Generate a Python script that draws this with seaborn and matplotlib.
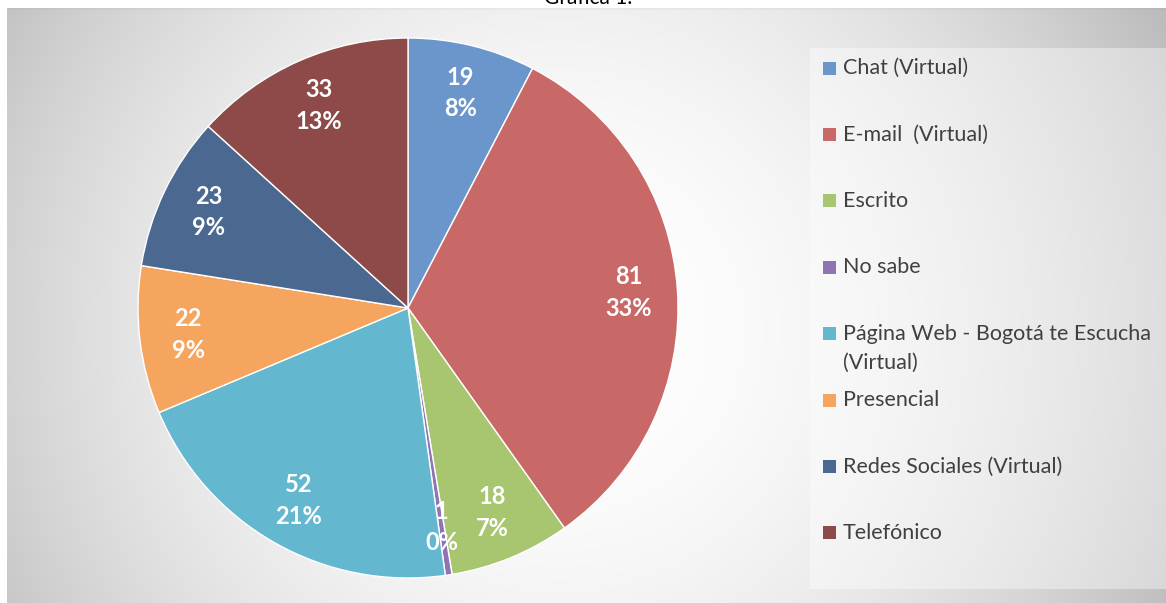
import numpy as np
import matplotlib
matplotlib.use("Agg")
import matplotlib.pyplot as plt
import seaborn as sns
from matplotlib.patches import Rectangle

# ---- data ----
categories = ["Chat (Virtual)", "E-mail  (Virtual)", "Escrito", "No sabe",
              "Página Web - Bogotá te Escucha\n(Virtual)", "Presencial",
              "Redes Sociales (Virtual)", "Telefónico"]
values = [19, 81, 18, 1, 52, 22, 23, 33]
slice_colors = ["#6A96CC", "#C96967", "#A8C56F", "#8E74B3",
                "#63B8CF", "#F6A55E", "#4B6990", "#8D4A49"]
title = "Gráfica 1."

sns.set_theme(style="white")
plt.rcParams['font.family'] = ['Lato', 'DejaVu Sans']
palette = sns.color_palette(slice_colors)

W, H = 1166, 603
fig = plt.figure(figsize=(W / 100, H / 100), dpi=100)

# ---- background (radial gradient panel + legend box) ----
bg = fig.add_axes([0, 0, 1, 1])
bg.set_axis_off()
yy, xx = np.mgrid[0:H, 0:W]
d2 = (xx - 560.0) ** 2 + (yy - 330.0) ** 2
panel = np.clip(255 - 1.45e-4 * d2, 188, 255) / 255.0
legbox = np.clip(255 - 9.0e-5 * d2, 200, 255) / 255.0
gray = np.ones((H, W))
pmask = (xx >= 7) & (yy >= 8)
gray[pmask] = panel[pmask]
lmask = (xx >= 810) & (yy >= 48) & (yy <= 588)
gray[lmask] = legbox[lmask]
gray[8:10, 7:] *= 0.97
img = np.dstack([gray, gray, gray])
bg.imshow(img, extent=(0, W, H, 0), interpolation="bilinear")
bg.set_xlim(0, W)
bg.set_ylim(H, 0)

# ---- title (cut off at top, as in the reference) ----
fig.text(588 / W, 1 - 4 / H, title, ha="center", va="baseline",
         fontsize=15, color="#000000")

# ---- pie ----
cx, cy, r = 408, 308, 270
ax = fig.add_axes([(cx - r) / W, (H - (cy + r)) / H, 2 * r / W, 2 * r / H])
ax.patch.set_alpha(0)
total = sum(values)


def fmt(p):
    v = int(round(p * total / 100.0))
    return f"{v}\n{p:.0f}%"


wedges, texts, autotexts = ax.pie(
    values, colors=palette, startangle=90, counterclock=False,
    autopct=fmt, pctdistance=0.82,
    wedgeprops=dict(edgecolor="white", linewidth=1),
    textprops=dict(color="white", fontsize=17, fontweight="bold"))
for t in autotexts:
    t.set_linespacing(1.45)
ax.set_xlim(-1, 1)
ax.set_ylim(-1, 1)
ax.set_aspect("equal")
ax.set_axis_off()

# ---- legend ----
for i, (cat, col) in enumerate(zip(categories, palette)):
    y = 68 + i * 66.4
    bg.add_patch(Rectangle((823, y - 6.5), 13, 13, facecolor=col, edgecolor="none"))
    for j, line in enumerate(cat.split("\n")):
        bg.text(843, y + j * 29, line, ha="left", va="center",
                fontsize=15.5, color="#404040")

fig.savefig("out.png", dpi=100)
